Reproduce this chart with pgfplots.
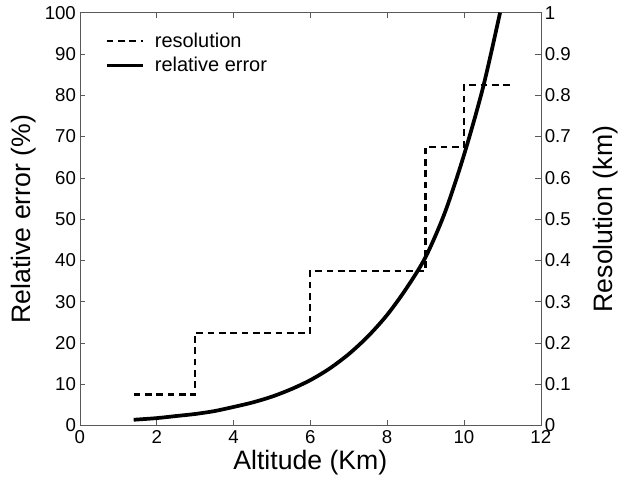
\documentclass[border=0pt]{standalone}
\usepackage{pgfplots}
\pgfplotsset{compat=1.18}
\usepackage{fontspec}
\setmainfont{Liberation Sans}

\begin{document}
\begin{tikzpicture}
\pgfplotsset{every axis/.append style={
  scale only axis, width=346pt, height=310pt,
  xmin=0, xmax=12,
  tick align=inside,
  /pgf/number format/assume math mode=true,
  tick label style={font=\fontsize{14}{16}\selectfont},
  label style={font=\fontsize{20}{24}\selectfont},
  axis line style={black!65},
  major tick style={black!65, thin},
  major tick length=4pt,
}}
% relative error (left axis)
\begin{axis}[
  name=ax,
  ymin=0, ymax=100,
  ytick={0,10,...,100},
  xtick={0,2,...,12},
  ytick pos=left,
  xlabel={Altitude (Km)},
  ylabel={Relative error (\%)},
  xlabel style={yshift=2pt},
  yticklabel style={xshift=0.5pt},
  ylabel shift=-0.5pt,
]
\addplot[black, line width=2.8pt, smooth] coordinates {
  (1.4,1.4) (2.0,1.8) (2.5,2.3) (3.0,2.8) (3.5,3.5) (4.0,4.5)
  (4.5,5.6) (5.0,7.0) (5.5,8.8) (6.0,11.0) (6.5,13.8) (7.0,17.3)
  (7.5,21.6) (8.0,26.8) (8.5,33.2) (9.0,40.8) (9.5,51.5) (10.0,65.5)
  (10.5,82.0) (10.94,100)
};
\end{axis}
% resolution (right axis)
\begin{axis}[
  ymin=0, ymax=1,
  ytick={0,0.1,0.2,0.3,0.4,0.5,0.6,0.7,0.8,0.9,1},
  axis y line*=right,
  axis x line=none,
  ylabel={Resolution (km)},
  yticklabel style={xshift=-0.5pt},
  ylabel shift=10pt,
  legend style={at={(0.045,0.965)}, anchor=north west, draw=none, fill=none,
    font=\fontsize{15}{17}\selectfont, row sep=2pt},
  legend cell align=left,
  legend image code/.code={\draw[#1] (0cm,0cm) -- (0.95cm,0cm);
    \path (1.15cm,0cm);},
]
\addplot[black, line width=1.7pt, dash pattern=on 5pt off 3.5pt] coordinates {
  (1.4,0.075) (3.0,0.075) (3.0,0.225) (6.0,0.225) (6.0,0.375)
  (9.0,0.375) (9.0,0.675) (10.0,0.675) (10.0,0.825) (11.3,0.825)
};
\addlegendentry{resolution}
\addlegendimage{black, line width=2.8pt}
\addlegendentry{relative error}
\end{axis}
% page size as in the reference
\path ([shift={(-60pt,-41pt)}]ax.south west) ([shift={(64pt,9.5pt)}]ax.north east);
\end{tikzpicture}
\end{document}
